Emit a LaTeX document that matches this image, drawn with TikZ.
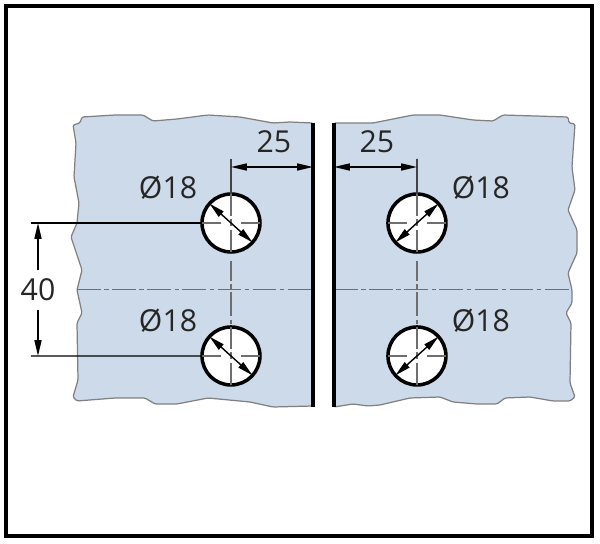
\documentclass[tikz,border=0pt]{standalone}
\usepackage{fontspec}
\setmainfont{Open Sans}
\usetikzlibrary{arrows.meta, positioning}
\definecolor{plate}{RGB}{204,218,233}
\definecolor{axisgray}{RGB}{110,110,110}

\begin{document}
\begin{tikzpicture} [x=0.02cm, y=-0.02cm, on grid,
    hole/.style={circle, draw, line width=2pt, fill=white, inner sep=0pt, outer sep=0pt, minimum size=1.16cm},
    label/.style={font=\fontsize{17.2}{17.2}\selectfont, text=black!85, inner sep=0pt},
    plate/.style={fill=plate, draw=black!50, line width=0.7pt, rounded corners=0.8pt},
    glass/.style={line width=2pt},
    axis/.style={axisgray, line width=0.9pt, dash pattern=on 13.5pt off 2pt on 2.5pt off 2pt},
    cross/.style={axisgray, line width=1pt},
    dim/.style={line width=0.8pt, {Stealth[length=9pt, width=4pt, inset=0pt]}-{Stealth[length=9pt, width=4pt, inset=0pt]}},
    dimend/.style={line width=0.8pt, -{Stealth[length=9pt, width=4pt, inset=0pt]}}]
\useasboundingbox (0,0) rectangle (600,544);
\draw [line width=2pt] (6,6) rectangle (592,536);

% plates
\draw [plate] (313,123) -- (290,122) -- (273,123) -- (240,117) -- (208,115) -- (177,119) -- (153,121) -- (143,115)
    -- (115,115) -- (82,117) -- (80,123) -- (73,125) -- (76,143) -- (74,177) -- (79,203) -- (77,223) -- (71,237)
    -- (82,270) -- (77,290) -- (82,313) -- (77,323) -- (78,380) -- (73,397) -- (77,401) -- (115,398) -- (145,398)
    -- (155,404) -- (177,404) -- (208,398) -- (250,402) -- (273,407) -- (313,406) -- cycle;
\draw [plate] (334,123) -- (373,123) -- (413,115) -- (440,115) -- (473,120) -- (493,121) -- (503,115) -- (568,117)
    -- (569,123) -- (575,124) -- (572,167) -- (575,190) -- (568,210) -- (577,230) -- (577,253) -- (568,273)
    -- (572,290) -- (572,303) -- (566,313) -- (571,323) -- (570,383) -- (575,397) -- (570,401) -- (553,401)
    -- (530,397) -- (505,398) -- (497,404) -- (477,404) -- (453,402) -- (440,397) -- (410,398) -- (380,405)
    -- (368,406) -- (353,404) -- (334,407) -- cycle;

\coordinate (glassLT) at (313,123);
\coordinate (glassLB) at (313,407);
\coordinate (glassRT) at (334,123);
\coordinate (glassRB) at (334,407);
\coordinate (midL) at (77,289.5);
\coordinate (midR) at (572,289.5);
\draw [axis] (midL) -- (glassLT |- midL);
\draw [axis] (glassRT |- midL) -- (midR);
\draw [glass] (glassLT) -- (glassLB);
\draw [glass] (glassRT) -- (glassRB);

\node (holeLT) [hole] at (231,223) {};
\node (holeLB) [hole, below = 2.66cm of holeLT] {};
\node (holeRT) [hole, right = 3.72cm of holeLT] {};
\node (holeRB) [hole, right = 3.72cm of holeLB] {};

\foreach \h in {holeLT, holeLB, holeRT, holeRB} {
    \draw [cross] (\h.west) -- ([xshift=-0.2cm]\h.center);
    \draw [cross] ([xshift=0.2cm]\h.center) -- (\h.east);
    \draw [cross] (\h.north) -- ([yshift=0.14cm]\h.center);
    \draw [cross] ([yshift=0.07cm]\h.center) -- ([yshift=-0.07cm]\h.center);
    \draw [cross] ([yshift=-0.14cm]\h.center) -- (\h.south);
}
\draw [axis, dash phase=2pt] ([yshift=-5pt]holeLT.south) -- (holeLB.north);
\draw [axis, dash phase=2pt] ([yshift=-5pt]holeRT.south) -- (holeRB.north);
\draw [dim] (holeLT.138) -- (holeLT.-42);
\draw [dim] (holeLB.138) -- (holeLB.-42);
\draw [dim] (holeRT.42) -- (holeRT.222);
\draw [dim] (holeRB.42) -- (holeRB.222);

% dimensions
\coordinate (tickL) at (231,159);
\coordinate (tickR) at (417,159);
\coordinate (edgeL) at (313,167);
\coordinate (edgeR) at (334,167);
\draw [axisgray!60!black, line width=0.9pt] (tickL) -- (holeLT.north);
\draw [axisgray!60!black, line width=0.9pt] (tickR) -- (holeRT.north);
\draw [dim] (tickL |- edgeL) -- (edgeL);
\draw [dim] (edgeR) -- (tickR |- edgeR);
\node (widthL) [label, above right = 1.62cm and 0.86cm of holeLT] {25};
\node (widthR) [label, above left = 1.62cm and 0.8cm of holeRT] {25};

\node (diaLT) [label, above left = 0.7cm and 1.26cm of holeLT] {Ø18};
\node (diaLB) [label, above left = 0.7cm and 1.26cm of holeLB] {Ø18};
\node (diaRT) [label, above right = 0.7cm and 1.28cm of holeRT] {Ø18};
\node (diaRB) [label, above right = 0.7cm and 1.28cm of holeRB] {Ø18};

\coordinate (leadT) at (31,223);
\coordinate (leadB) at (31,356);
\draw [line width=0.8pt] (leadT) -- (holeLT.west);
\draw [line width=0.8pt] (leadB) -- (holeLB.west);
\node (pitch) [label, inner ysep=5pt] at (38,290) {40};
\draw [dimend] (pitch.north) -- (pitch.north |- leadT);
\draw [dimend] (pitch.south) -- (pitch.south |- leadB);
\end{tikzpicture}
\end{document}
